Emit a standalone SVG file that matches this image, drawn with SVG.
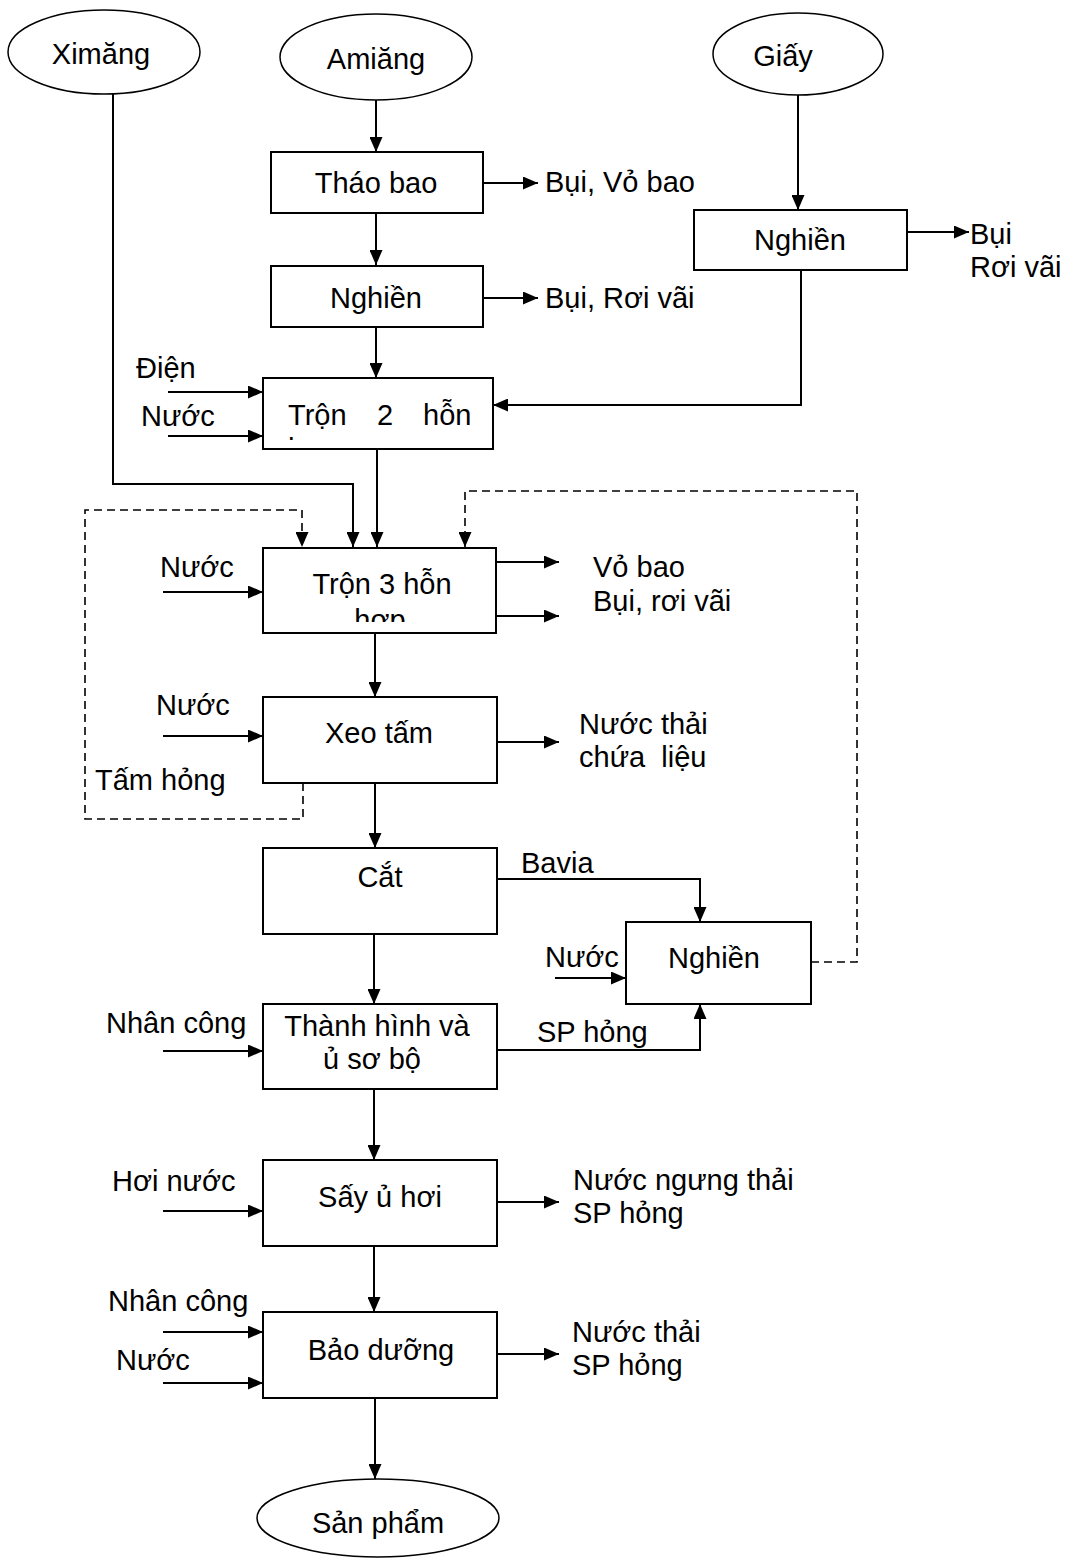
<svg xmlns="http://www.w3.org/2000/svg" width="1069" height="1559" viewBox="0 0 1069 1559">
<style>
text{font-family:"Liberation Sans",Arial,sans-serif;font-size:29px;fill:#000}
.c{text-anchor:middle}
.box{fill:#fff;stroke:#000;stroke-width:2}
.ell{fill:#fff;stroke:#000;stroke-width:1.5}
.ln{fill:none;stroke:#000;stroke-width:2}
.dash{fill:none;stroke:#000;stroke-width:1.6;stroke-dasharray:8,5}
</style>
<defs>
<marker id="ah" markerUnits="userSpaceOnUse" markerWidth="15" markerHeight="13" refX="15" refY="6.5" orient="auto">
<path d="M0,0 L15,6.5 L0,13 z" fill="#000"/>
</marker>
<clipPath id="clip2"><rect x="264" y="379" width="228" height="61"/></clipPath>
<clipPath id="clip3"><rect x="264" y="549" width="232" height="73"/></clipPath>
</defs>
<rect width="1069" height="1559" fill="#fff"/>

<g id="connectors">
<line class="ln" x1="376" y1="99" x2="376" y2="152" marker-end="url(#ah)"/>
<line class="ln" x1="376" y1="213" x2="376" y2="265" marker-end="url(#ah)"/>
<line class="ln" x1="376" y1="327" x2="376" y2="378" marker-end="url(#ah)"/>
<line class="ln" x1="377" y1="449" x2="377" y2="547" marker-end="url(#ah)"/>
<polyline class="ln" points="113,94 113,484 353,484 353,547" marker-end="url(#ah)"/>
<line class="ln" x1="798" y1="95" x2="798" y2="210" marker-end="url(#ah)"/>
<polyline class="ln" points="801,270 801,405 493,405" marker-end="url(#ah)"/>
<line class="ln" x1="375" y1="633" x2="375" y2="697" marker-end="url(#ah)"/>
<line class="ln" x1="375" y1="783" x2="375" y2="848" marker-end="url(#ah)"/>
<line class="ln" x1="374" y1="934" x2="374" y2="1004" marker-end="url(#ah)"/>
<line class="ln" x1="374" y1="1089" x2="374" y2="1160" marker-end="url(#ah)"/>
<line class="ln" x1="374" y1="1246" x2="374" y2="1312" marker-end="url(#ah)"/>
<line class="ln" x1="375" y1="1398" x2="375" y2="1479" marker-end="url(#ah)"/>
<line class="ln" x1="483" y1="183" x2="538" y2="183" marker-end="url(#ah)"/>
<line class="ln" x1="483" y1="298" x2="538" y2="298" marker-end="url(#ah)"/>
<line class="ln" x1="907" y1="232" x2="969" y2="232" marker-end="url(#ah)"/>
<line class="ln" x1="496" y1="562" x2="559" y2="562" marker-end="url(#ah)"/>
<line class="ln" x1="496" y1="616" x2="559" y2="616" marker-end="url(#ah)"/>
<line class="ln" x1="497" y1="742" x2="559" y2="742" marker-end="url(#ah)"/>
<line class="ln" x1="497" y1="1202" x2="559" y2="1202" marker-end="url(#ah)"/>
<line class="ln" x1="497" y1="1354" x2="559" y2="1354" marker-end="url(#ah)"/>
<line class="ln" x1="168" y1="392" x2="263" y2="392" marker-end="url(#ah)"/>
<line class="ln" x1="168" y1="436" x2="263" y2="436" marker-end="url(#ah)"/>
<line class="ln" x1="163" y1="592" x2="263" y2="592" marker-end="url(#ah)"/>
<line class="ln" x1="163" y1="736" x2="263" y2="736" marker-end="url(#ah)"/>
<line class="ln" x1="555" y1="978" x2="626" y2="978" marker-end="url(#ah)"/>
<line class="ln" x1="163" y1="1051" x2="263" y2="1051" marker-end="url(#ah)"/>
<line class="ln" x1="163" y1="1211" x2="263" y2="1211" marker-end="url(#ah)"/>
<line class="ln" x1="163" y1="1332" x2="263" y2="1332" marker-end="url(#ah)"/>
<line class="ln" x1="163" y1="1383" x2="263" y2="1383" marker-end="url(#ah)"/>
<polyline class="ln" points="497,879 700,879 700,922" marker-end="url(#ah)"/>
<polyline class="ln" points="497,1050 700,1050 700,1004" marker-end="url(#ah)"/>
<polyline class="dash" points="303,783 303,819 85,819 85,510 302,510 302,547" marker-end="url(#ah)"/>
<polyline class="dash" points="811,962 857,962 857,491 465,491 465,547" marker-end="url(#ah)"/>
</g>

<g id="ximang"><ellipse class="ell" cx="104" cy="52" rx="96" ry="42"/><text class="c" x="101" y="64">Ximăng</text></g>
<g id="amiang"><ellipse class="ell" cx="376" cy="57" rx="96" ry="43"/><text class="c" x="376" y="69">Amiăng</text></g>
<g id="giay"><ellipse class="ell" cx="798" cy="54" rx="85" ry="41"/><text class="c" x="783" y="66">Giấy</text></g>

<g id="thao-bao"><rect class="box" x="271" y="152" width="212" height="61"/><text class="c" x="376" y="193">Tháo bao</text></g>
<g id="nghien-a"><rect class="box" x="271" y="266" width="212" height="61"/><text class="c" x="376" y="308">Nghiền</text></g>
<g id="nghien-g"><rect class="box" x="694" y="210" width="213" height="60"/><text class="c" x="800" y="250">Nghiền</text></g>

<g id="tron-2">
<rect class="box" x="263" y="378" width="230" height="71"/>
<g clip-path="url(#clip2)">
<text x="288" y="425">Trộn</text><text x="377" y="425">2</text><text x="423" y="425">hỗn</text>
<text x="288" y="459">hợp</text>
</g>
</g>

<g id="tron-3">
<rect class="box" x="263" y="548" width="233" height="85"/>
<g clip-path="url(#clip3)">
<text class="c" x="382" y="594">Trộn 3 hỗn</text>
<text class="c" x="380" y="630">hợp</text>
</g>
</g>

<g id="xeo-tam"><rect class="box" x="263" y="697" width="234" height="86"/><text class="c" x="379" y="743">Xeo tấm</text></g>
<g id="cat"><rect class="box" x="263" y="848" width="234" height="86"/><text class="c" x="380" y="887">Cắt</text></g>
<g id="nghien-r"><rect class="box" x="626" y="922" width="185" height="82"/><text class="c" x="714" y="968">Nghiền</text></g>
<g id="thanh-hinh"><rect class="box" x="263" y="1004" width="234" height="85"/><text class="c" x="377" y="1036">Thành hình và</text><text class="c" x="372" y="1069">ủ sơ bộ</text></g>
<g id="say"><rect class="box" x="263" y="1160" width="234" height="86"/><text class="c" x="380" y="1207">Sấy ủ hơi</text></g>
<g id="bao-duong"><rect class="box" x="263" y="1312" width="234" height="86"/><text class="c" x="381" y="1360">Bảo dưỡng</text></g>
<g id="san-pham"><ellipse class="ell" cx="378" cy="1518" rx="121" ry="39"/><text class="c" x="378" y="1533">Sản phẩm</text></g>

<g id="labels">
<text x="545" y="192">Bụi, Vỏ bao</text>
<text x="545" y="308">Bụi, Rơi vãi</text>
<text x="970" y="244">Bụi</text>
<text x="970" y="277">Rơi vãi</text>
<text x="136" y="378">Điện</text>
<text x="141" y="426">Nước</text>
<text x="160" y="577">Nước</text>
<text x="593" y="577">Vỏ bao</text>
<text x="593" y="611">Bụi, rơi vãi</text>
<text x="156" y="715">Nước</text>
<text x="95" y="790">Tấm hỏng</text>
<text x="579" y="734">Nước thải</text>
<text x="579" y="767" xml:space="preserve">chứa  liệu</text>
<text x="521" y="873">Bavia</text>
<text x="545" y="967">Nước</text>
<text x="537" y="1042">SP hỏng</text>
<text x="106" y="1033">Nhân công</text>
<text x="112" y="1191">Hơi nước</text>
<text x="573" y="1190">Nước ngưng thải</text>
<text x="573" y="1223">SP hỏng</text>
<text x="108" y="1311">Nhân công</text>
<text x="116" y="1370">Nước</text>
<text x="572" y="1342">Nước thải</text>
<text x="572" y="1375">SP hỏng</text>
</g>
</svg>
